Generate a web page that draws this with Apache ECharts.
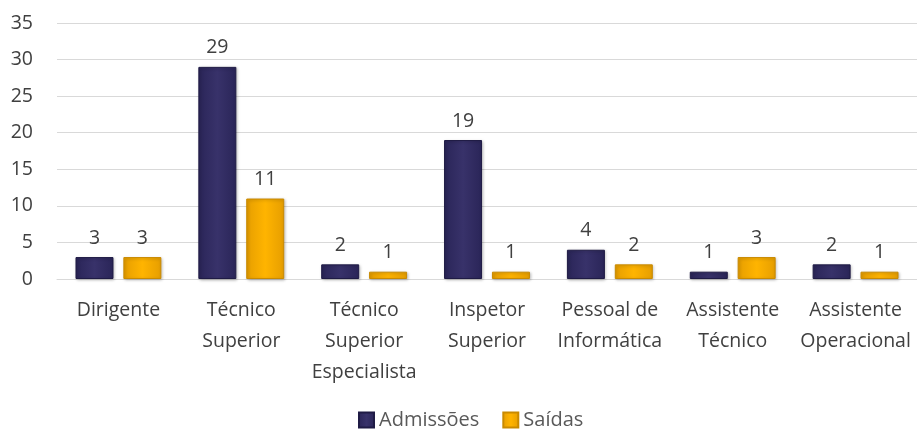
<!DOCTYPE html>
<html><head><meta charset="utf-8">
<script src="https://cdn.jsdelivr.net/npm/echarts@6/dist/echarts.min.js"></script>
<style>html,body{margin:0;padding:0;background:#fff}#c{width:917px;height:430px}</style>
</head><body><div id="c"></div>
<script>
const categories = ["Dirigente","Técnico\nSuperior","Técnico\nSuperior\nEspecialista","Inspetor\nSuperior","Pessoal de\nInformática","Assistente\nTécnico","Assistente\nOperacional"];
const admissoes = [3,29,2,19,4,1,2];
const saidas = [3,11,1,1,2,3,1];
const yTicks = {min:0,max:35,interval:5};
const font = "'Open Sans', sans-serif";
const navy = new echarts.graphic.LinearGradient(0,0,1,0,[{offset:0,color:'#2a2558'},{offset:0.5,color:'#38326a'},{offset:1,color:'#2a2558'}]);
const gold = new echarts.graphic.LinearGradient(0,0,1,0,[{offset:0,color:'#e69e00'},{offset:0.5,color:'#ffb400'},{offset:1,color:'#e69e00'}]);
const chart = echarts.init(document.getElementById('c'));
chart.setOption({
  animation:false,
  textStyle:{fontFamily:font},
  grid:{left:57,right:0,top:23,bottom:151,containLabel:false},
  legend:{top:410,left:358,padding:[0,0,0,0],itemWidth:15,itemHeight:15,itemGap:23,icon:'rect',
    textStyle:{fontSize:20,color:'#595959',fontFamily:font},
    data:['Admissões','Saídas']},
  xAxis:{type:'category',data:categories,
    axisLine:{lineStyle:{color:'#d9d9d9',width:1}},axisTick:{show:false},
    axisLabel:{fontSize:19.5,color:'#404040',lineHeight:31,margin:16,interval:0,fontFamily:font}},
  yAxis:{type:'value',min:yTicks.min,max:yTicks.max,interval:yTicks.interval,
    axisLine:{show:false},axisTick:{show:false},
    splitLine:{lineStyle:{color:'#d9d9d9'}},
    axisLabel:{fontSize:19.5,color:'#404040',margin:24,fontFamily:font}},
  series:[
    {name:'Admissões',type:'bar',data:admissoes,barWidth:38,barGap:'26%',
      itemStyle:{color:navy,borderColor:'#1f1b45',borderWidth:1,shadowColor:'rgba(0,0,0,0.25)',shadowBlur:3,shadowOffsetX:1,shadowOffsetY:1},
      label:{show:true,position:'top',distance:9,fontSize:19.5,color:'#404040',fontFamily:font}},
    {name:'Saídas',type:'bar',data:saidas,barWidth:38,
      itemStyle:{color:gold,borderColor:'#c98a00',borderWidth:1,shadowColor:'rgba(0,0,0,0.25)',shadowBlur:3,shadowOffsetX:1,shadowOffsetY:1},
      label:{show:true,position:'top',distance:9,fontSize:19.5,color:'#404040',fontFamily:font}}
  ]
});
</script></body></html>
